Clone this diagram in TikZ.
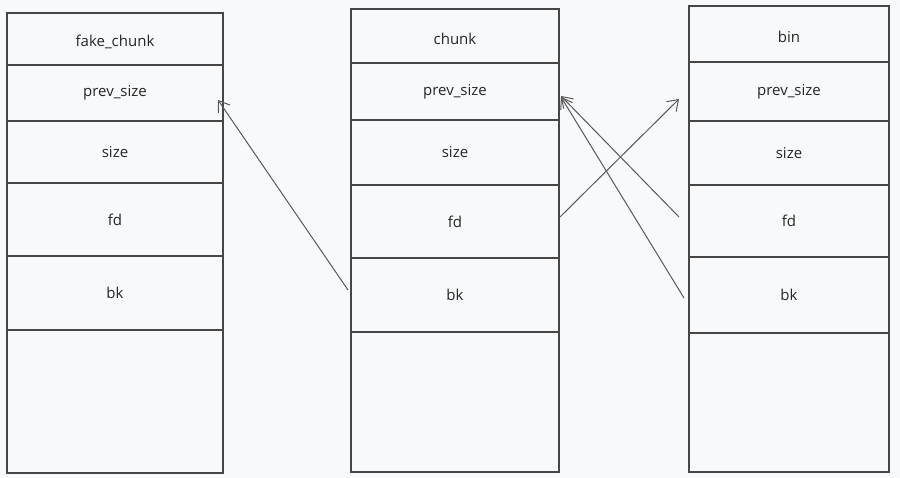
\documentclass[tikz,border=0pt]{standalone}
\usepackage{fontspec}
\setmainfont{Open Sans}
\usepackage{tikz}
\usetikzlibrary{arrows.meta,positioning}
\definecolor{bgcol}{RGB}{248,249,251}
\definecolor{linecol}{RGB}{70,70,70}
\tikzstyle{cell}=[draw=linecol,line width=1.1pt,inner sep=0pt,outer sep=0pt,font=\fontsize{15}{17}\selectfont,text=black!85]
\tikzstyle{namecell}=[cell,text height=17pt]
\tikzstyle{ptr}=[draw=linecol!90,line width=1pt,-{Straight Barb[length=10pt,width=14pt]}]

\begin{document}
\begin{tikzpicture}[x=1pt,y=-1pt]
      \fill[bgcol] (0,0) rectangle (900,478);
      \useasboundingbox (0,0) rectangle (900,478);
      % fake chunk
      \node[namecell,minimum width=216,minimum height=52] at (115,39) (f-name) {fake\_chunk};
      \node[cell,minimum width=216,minimum height=56] at (115,93) (f-prev) {prev\_size};
      \node[cell,minimum width=216,minimum height=62] at (115,152) (f-size) {size};
      \node[cell,minimum width=216,minimum height=73] at (115,219.5) (f-fd) {fd};
      \node[cell,minimum width=216,minimum height=74] at (115,293) (f-bk) {bk};
      \node[cell,minimum width=216,minimum height=143] at (115,401.5) (f-rest) {};
      % chunk
      \node[namecell,minimum width=208,minimum height=54] at (455,36) (c-name) {chunk};
      \node[cell,minimum width=208,minimum height=57] at (455,91.5) (c-prev) {prev\_size};
      \node[cell,minimum width=208,minimum height=65] at (455,152.5) (c-size) {size};
      \node[cell,minimum width=208,minimum height=73] at (455,221.5) (c-fd) {fd};
      \node[cell,minimum width=208,minimum height=74] at (455,295) (c-bk) {bk};
      \node[cell,minimum width=208,minimum height=140] at (455,402) (c-rest) {};
      % bin
      \node[namecell,minimum width=200,minimum height=56] at (789,34) (b-name) {bin};
      \node[cell,minimum width=200,minimum height=59] at (789,91.5) (b-prev) {prev\_size};
      \node[cell,minimum width=200,minimum height=64] at (789,153) (b-size) {size};
      \node[cell,minimum width=200,minimum height=72] at (789,221) (b-fd) {fd};
      \node[cell,minimum width=200,minimum height=76] at (789,295) (b-bk) {bk};
      \node[cell,minimum width=200,minimum height=139] at (789,402.5) (b-rest) {};
      % pointers
      \draw[ptr] ([shift={(-3,-5)}]c-bk.west) -- ([shift={(-5,7)}]f-prev.east);
      \draw[ptr] ([shift={(1,-4.5)}]c-fd.east) -- ([shift={(-10,7.5)}]b-prev.west);
      \draw[ptr] ([shift={(-10,-4)}]b-fd.west) -- ([shift={(2,4.5)}]c-prev.east);
      \draw[ptr] ([shift={(-5,3)}]b-bk.west) -- ([shift={(2,5.5)}]c-prev.east);
\end{tikzpicture}
\end{document}
